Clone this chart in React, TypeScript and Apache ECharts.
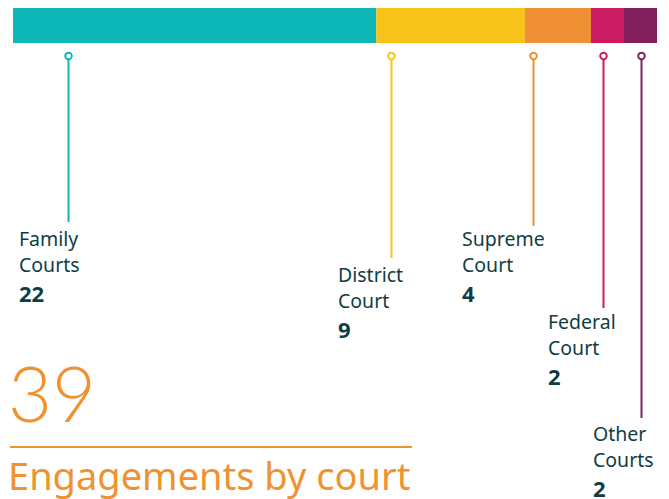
import React, { useEffect, useRef } from "react";
import * as echarts from "echarts";

// ---- data ----
const categories = ["Family\nCourts", "District\nCourt", "Supreme\nCourt", "Federal\nCourt", "Other\nCourts"];
const values = [22, 9, 4, 2, 2];
const titleText = "Engagements by court";

// ---- styles / layout ----
const colors = ["#0DB7B7", "#F8C318", "#EE9033", "#CC1C61", "#821F5D"];
const textColor = "#0F3D45";
const accent = "#EF9232";
const leaderOffset = [55, 15, 8, 12, 17]; // px from segment start
const leaderEndY = [222, 258, 226, 308, 418];
const labelX = [19, 338, 462, 548, 593];
const labelTopY = [225, 261, 225, 308, 420];
const FONT = "'Noto Sans', Lato, sans-serif";

export default function App() {
  const ref = useRef<HTMLDivElement>(null);
  useEffect(() => {
    const chart = echarts.init(ref.current!, undefined, { renderer: "svg" });
    const total = values.reduce((a, b) => a + b, 0);
    const starts: number[] = [];
    let acc = 0;
    values.forEach((v) => {
      starts.push(acc);
      acc += v;
    });

    const barSeries = values.map((v, i) => ({
      type: "bar",
      name: categories[i],
      stack: "total",
      barWidth: 35,
      data: [v],
      itemStyle: { color: colors[i] },
      silent: true,
    }));

    chart.setOption({
      animation: false,
      grid: { left: 13, right: 12, top: 8, height: 35 },
      xAxis: { type: "value", min: 0, max: total, show: false },
      yAxis: { type: "category", data: ["Courts"], show: false },
      series: [
        ...barSeries,
        {
          type: "custom",
          coordinateSystem: "cartesian2d",
          clip: false,
          silent: true,
          data: starts.map((s, i) => [s, i]),
          encode: { x: 0 },
          renderItem: (params: any, api: any) => {
            const i = params.dataIndex;
            const p = api.coord([api.value(0), 0]);
            const x = Math.round(p[0] + leaderOffset[i]) + 0.5;
            const cy = 56;
            const c = colors[i];
            return {
              type: "group",
              children: [
                {
                  type: "line",
                  shape: { x1: x, y1: cy + 3.5, x2: x, y2: leaderEndY[i] },
                  style: { stroke: c, lineWidth: 2 },
                },
                {
                  type: "circle",
                  shape: { cx: x, cy, r: 3.3 },
                  style: { stroke: c, lineWidth: 2, fill: "#fff" },
                },
                {
                  type: "text",
                  style: {
                    text: categories[i],
                    x: labelX[i],
                    y: labelTopY[i],
                    fill: textColor,
                    fontFamily: FONT,
                    fontSize: 19.5,
                    lineHeight: 26,
                    verticalAlign: "top",
                    align: "left",
                  },
                },
                {
                  type: "text",
                  style: {
                    text: String(values[i]),
                    x: labelX[i],
                    y: labelTopY[i] + 55,
                    fill: textColor,
                    fontFamily: FONT,
                    fontSize: 22,
                    fontWeight: "bold",
                    lineHeight: 26,
                    verticalAlign: "top",
                    align: "left",
                  },
                },
              ],
            };
          },
        },
      ],
      graphic: [
        {
          type: "text",
          left: 8,
          top: 354,
          style: {
            text: String(total),
            fill: accent,
            fontFamily: "Lato, 'Noto Sans', sans-serif",
            fontSize: 76,
            fontWeight: 300,
          },
        },
        {
          type: "line",
          shape: { x1: 10, y1: 447, x2: 412, y2: 447 },
          style: { stroke: accent, lineWidth: 2 },
        },
        {
          type: "text",
          left: 8,
          top: 456,
          style: {
            text: titleText,
            fill: accent,
            fontFamily: FONT,
            fontSize: 38,
            fontWeight: 400,
          },
        },
      ],
    });
    return () => chart.dispose();
  }, []);
  return (
    <div
      ref={ref}
      style={{ position: "fixed", left: 0, top: 0, width: 669, height: 499, background: "#fff" }}
    />
  );
}
